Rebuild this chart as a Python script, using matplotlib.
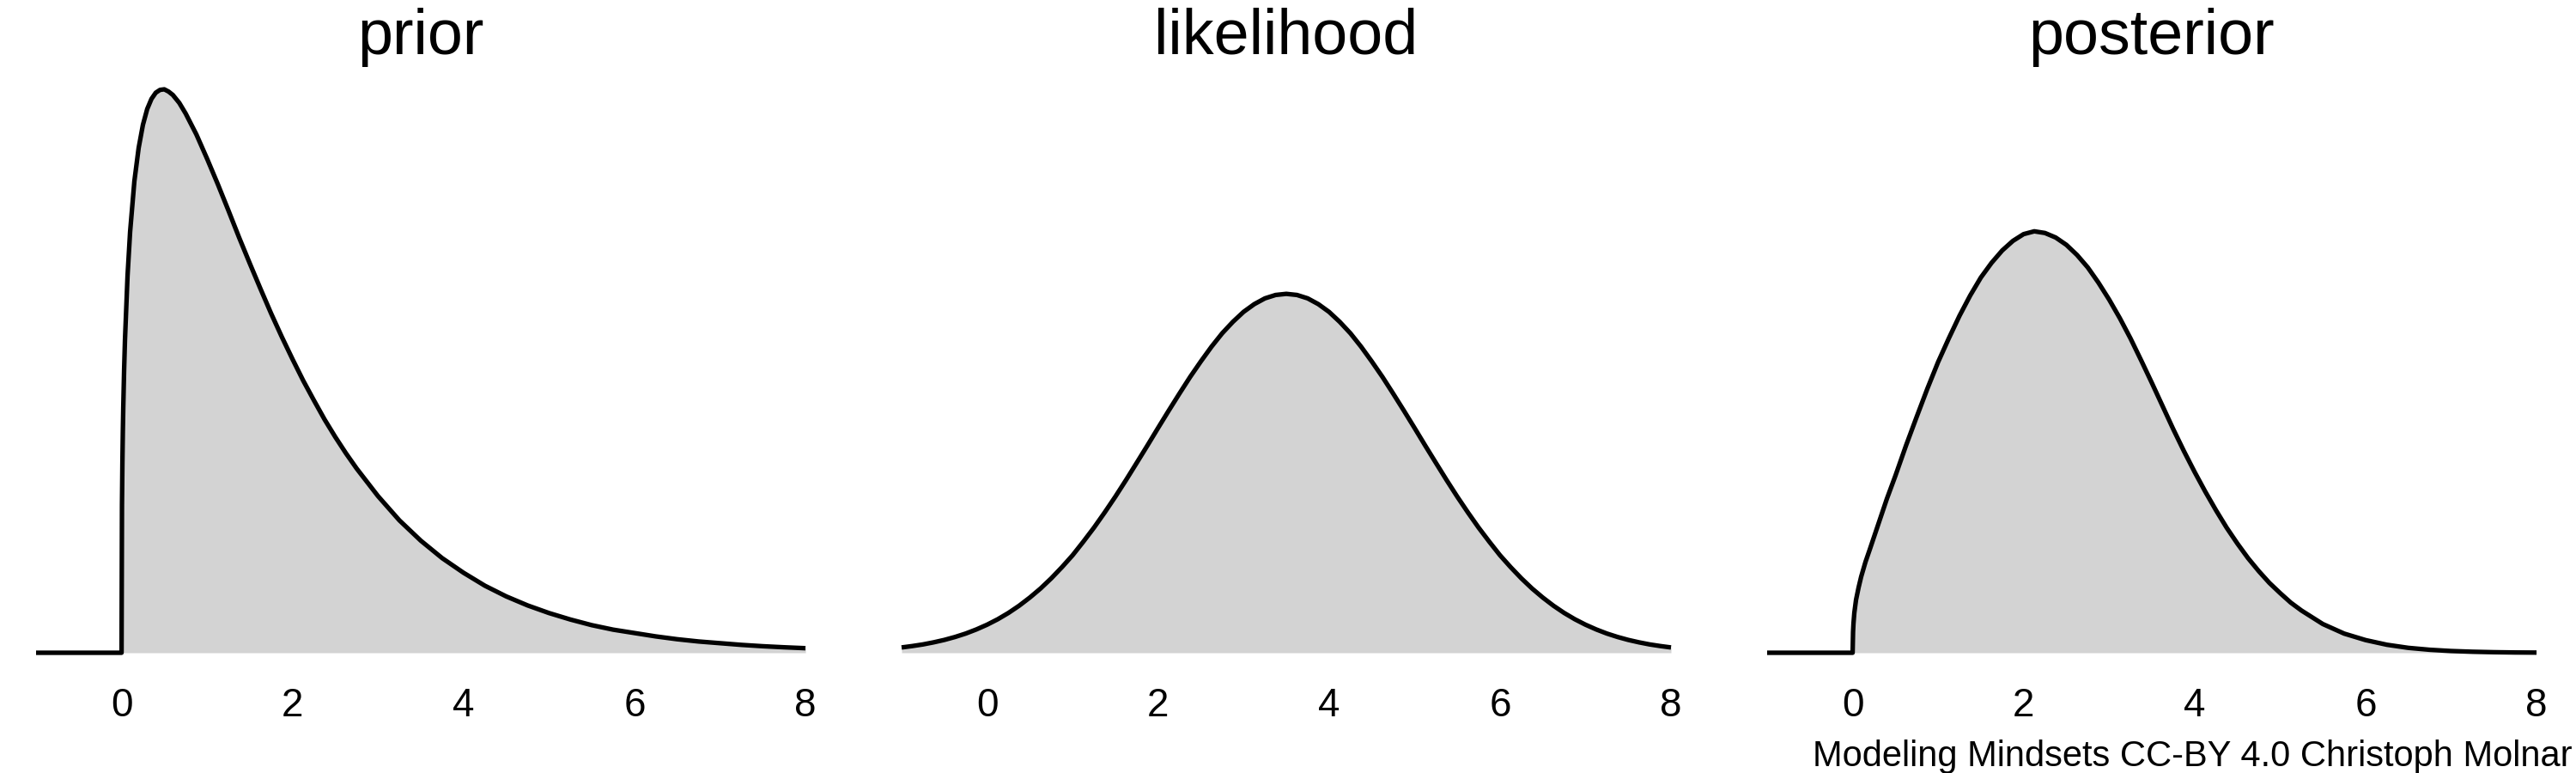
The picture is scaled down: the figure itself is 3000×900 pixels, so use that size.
import matplotlib
matplotlib.use("Agg")
import matplotlib.pyplot as plt

plt.rcParams['font.family'] = ['Liberation Sans', 'DejaVu Sans']

# ---- data (relative density, prior peak = 1) ----
titles = ["prior", "likelihood", "posterior"]
tick_values = [0, 2, 4, 6, 8]
tick_labels = ["0", "2", "4", "6", "8"]

prior_x = [-1.0, 0.0, 0.005, 0.01, 0.015, 0.02, 0.03, 0.04, 0.07, 0.1, 0.15, 0.2, 0.25, 0.3,
           0.35, 0.4, 0.45, 0.5, 0.55, 0.6, 0.675, 0.75, 0.875, 1.0, 1.125, 1.25, 1.375,
           1.5, 1.625, 1.75, 1.875, 2.0, 2.125, 2.25, 2.375, 2.5, 2.625, 2.75, 3.0,
           3.25, 3.5, 3.75, 4.0, 4.25, 4.5, 4.75, 5.0, 5.25, 5.5, 5.75, 6.0,
           6.25, 6.5, 6.75, 7.0, 7.25, 7.5, 7.75, 8.0]
prior_y = [0.0, 0.0, 0.262, 0.338, 0.392, 0.435, 0.5025, 0.555, 0.669, 0.747, 0.837, 0.896, 0.937, 0.965,
           0.983, 0.994, 0.999, 1.0, 0.996, 0.990, 0.976, 0.957, 0.920, 0.877, 0.832, 0.785, 0.737,
           0.691, 0.646, 0.602, 0.5605, 0.521, 0.483, 0.448, 0.414, 0.383, 0.354, 0.327, 0.278,
           0.235, 0.199, 0.168, 0.142, 0.119, 0.100, 0.084, 0.0705, 0.059, 0.049, 0.041, 0.035,
           0.029, 0.024, 0.020, 0.017, 0.014, 0.0116, 0.0097, 0.0081]

lik_x = [-1.0, -0.875, -0.75, -0.625, -0.5, -0.375, -0.25, -0.125, 0.0, 0.125, 0.25, 0.375,
         0.5, 0.625, 0.75, 0.875, 1.0, 1.125, 1.25, 1.375, 1.5, 1.625, 1.75, 1.875,
         2.0, 2.125, 2.25, 2.375, 2.5, 2.625, 2.75, 2.875, 3.0, 3.125, 3.25, 3.375,
         3.5, 3.625, 3.75, 3.875, 4.0, 4.125, 4.25, 4.375, 4.5, 4.625, 4.75, 4.875,
         5.0, 5.125, 5.25, 5.375, 5.5, 5.625, 5.75, 5.875, 6.0, 6.125, 6.25, 6.375,
         6.5, 6.625, 6.75, 6.875, 7.0, 7.125, 7.25, 7.375, 7.5, 7.625, 7.75, 7.875, 8.0]
lik_y = [0.0094, 0.0119, 0.0148, 0.0185, 0.0228, 0.0280, 0.0341, 0.0414, 0.0498, 0.0595, 0.0707, 0.0835,
         0.098, 0.1140, 0.132, 0.1518, 0.173, 0.1970, 0.222, 0.2489, 0.277, 0.3065, 0.337, 0.3677,
         0.399, 0.4298, 0.460, 0.4895, 0.517, 0.5432, 0.567, 0.5873, 0.605, 0.6187, 0.629, 0.635,
         0.637, 0.635, 0.629, 0.6187, 0.605, 0.5873, 0.567, 0.5432, 0.517, 0.4895, 0.460, 0.4298,
         0.399, 0.3677, 0.337, 0.3065, 0.277, 0.2489, 0.222, 0.1970, 0.173, 0.1518, 0.132, 0.1140,
         0.098, 0.0835, 0.0707, 0.0595, 0.0498, 0.0414, 0.0341, 0.0280, 0.0228, 0.0185, 0.0148, 0.0119, 0.0094]

post_x = [-1.0, 0.0, 0.005, 0.01, 0.02, 0.04, 0.07, 0.1, 0.15, 0.2, 0.3, 0.4,
          0.5, 0.625, 0.75, 0.875, 1.0, 1.125, 1.25, 1.375, 1.5, 1.625, 1.75, 1.875,
          2.0, 2.125, 2.25, 2.375, 2.5, 2.625, 2.75, 2.875, 3.0, 3.125, 3.25, 3.375,
          3.5, 3.625, 3.75, 3.875, 4.0, 4.125, 4.25, 4.375, 4.5, 4.625, 4.75, 4.875,
          5.0, 5.125, 5.25, 5.5, 5.75, 6.0, 6.25, 6.5, 6.75, 7.0, 7.25, 7.5, 7.75, 8.0]
post_y = [0.0, 0.0, 0.037, 0.052, 0.071, 0.094, 0.116, 0.135, 0.161, 0.183, 0.228, 0.273,
          0.314, 0.368, 0.419, 0.469, 0.516, 0.558, 0.598, 0.634, 0.666, 0.692, 0.714, 0.731,
          0.743, 0.748, 0.745, 0.737, 0.724, 0.706, 0.684, 0.657, 0.627, 0.594, 0.558, 0.519,
          0.479, 0.438, 0.397, 0.358, 0.321, 0.286, 0.253, 0.222, 0.194, 0.168, 0.145, 0.124,
          0.106, 0.089, 0.075, 0.051, 0.034, 0.0225, 0.0142, 0.0087, 0.0053, 0.0031, 0.0018, 0.001, 0.0005, 0.0003]

series = [(prior_x, prior_y), (lik_x, lik_y), (post_x, post_y)]

# ---- layout ----
W, H = 3000, 900
fig = plt.figure(figsize=(W / 100, H / 100), dpi=100)

x_lo, x_hi = -1.1, 8.1
px_per_unit = 99.56
ax_w_px = (x_hi - x_lo) * px_per_unit
y_lo, y_hi = -0.02, 1.02
base_px, peak_px = 760.0, 104.0           # from top
py_per_unit = base_px - peak_px
ax_bottom_px = base_px - y_lo * py_per_unit  # from top
ax_top_px = base_px - y_hi * py_per_unit
panel_left_px = [42, 1050, 2058]           # x = -1 position

for i, (title, (xs, ys)) in enumerate(zip(titles, series)):
    left = (panel_left_px[i] + (x_lo + 1.0) * px_per_unit) / W
    ax = fig.add_axes([left, (H - ax_bottom_px) / H, ax_w_px / W,
                       (ax_bottom_px - ax_top_px) / H])
    ax.fill_between(xs, 0, ys, color="#D3D3D3", linewidth=0)
    ax.plot(xs, ys, color="black", linewidth=3.8, solid_joinstyle="round",
            solid_capstyle="butt", clip_on=False)
    ax.set_xlim(x_lo, x_hi)
    ax.set_ylim(y_lo, y_hi)
    ax.set_xticks(tick_values)
    ax.set_xticklabels(tick_labels)
    ax.set_yticks([])
    ax.tick_params(axis="x", length=0, pad=19, labelsize=33, labelcolor="black")
    for s in ax.spines.values():
        s.set_visible(False)
    ax.patch.set_alpha(0)
    ax.text(0.5, 1 + (ax_top_px - 62.7) / (ax_bottom_px - ax_top_px), title,
            transform=ax.transAxes, ha="center", va="baseline", fontsize=53)

fig.text(0.9985, (H - 892) / H, "Modeling Mindsets CC-BY 4.0 Christoph Molnar",
         ha="right", va="baseline", fontsize=30)

fig.savefig("out.png", dpi=100, facecolor="white")
